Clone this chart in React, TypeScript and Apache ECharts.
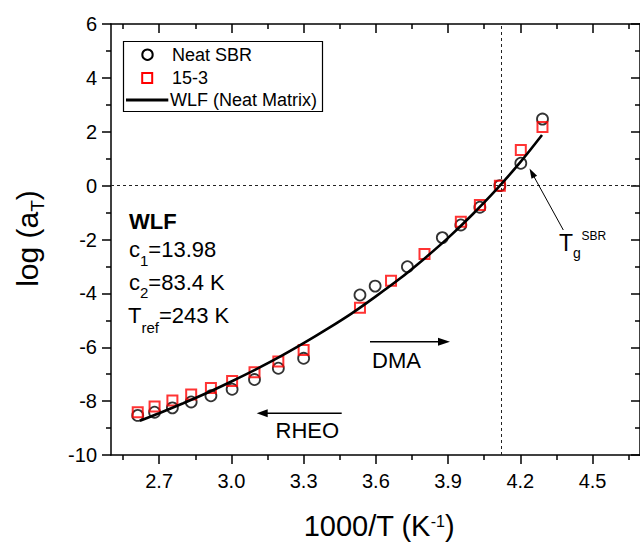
import React, { useEffect, useRef } from "react";
import * as echarts from "echarts";

const FONT = "'Liberation Sans', Arial, Helvetica, sans-serif";

// ---- axes ----
const X_MIN = 2.5;
const X_MAX = 4.697;
const Y_MIN = -10;
const Y_MAX = 6;
const Y_INTERVAL = 2;
const xMajorTicks = [2.7, 3.0, 3.3, 3.6, 3.9, 4.2, 4.5];
const xMinorTicks = [2.55, 2.85, 3.15, 3.45, 3.75, 4.05, 4.35, 4.65];

// ---- data: 1000/T (K^-1) vs log(aT) ----
const rheoX = [2.611, 2.681, 2.755, 2.833, 2.915, 3.003, 3.096, 3.195, 3.3];
const neatRheoY = [-8.53, -8.41, -8.25, -8.03, -7.8, -7.56, -7.2, -6.78, -6.41];
const b153RheoY = [-8.41, -8.2, -7.98, -7.75, -7.51, -7.25, -6.93, -6.53, -6.1];

const neatDmaX = [3.534, 3.597, 3.731, 3.876, 3.953, 4.032, 4.115, 4.202, 4.292];
const neatDmaY = [-4.06, -3.73, -3.01, -1.93, -1.46, -0.8, 0.0, 0.83, 2.47];
const b153DmaX = [3.534, 3.663, 3.802, 3.953, 4.032, 4.115, 4.202, 4.292];
const b153DmaY = [-4.53, -3.53, -2.54, -1.34, -0.72, 0.0, 1.32, 2.18];

const wlfX = [2.62, 2.7, 2.8, 2.9, 3.0, 3.1, 3.2, 3.3, 3.4, 3.5, 3.6, 3.7, 3.8, 3.9, 4.0, 4.1, 4.2, 4.29];
const wlfY = [-8.73, -8.45, -8.08, -7.69, -7.27, -6.83, -6.36, -5.85, -5.31, -4.74, -4.11, -3.45, -2.72, -1.94, -1.08, -0.15, 0.87, 1.88];

const TREF_X = 4.115;
const ZERO_Y = 0;

const seriesNames = ["Neat SBR", "15-3", "WLF (Neat Matrix)"];

function arrow(x1: number, y1: number, x2: number, y2: number, len: number, half: number, lw: number) {
  const dx = x2 - x1;
  const dy = y2 - y1;
  const d = Math.hypot(dx, dy);
  const ux = dx / d;
  const uy = dy / d;
  const bx = x2 - ux * len;
  const by = y2 - uy * len;
  return [
    {
      type: "line",
      z: 100,
      shape: { x1, y1, x2: bx + ux, y2: by + uy },
      style: { stroke: "#000", lineWidth: lw },
    },
    {
      type: "polygon",
      z: 100,
      shape: {
        points: [
          [x2, y2],
          [bx - uy * half, by + ux * half],
          [bx + uy * half, by - ux * half],
        ],
      },
      style: { fill: "#000" },
    },
  ];
}

const subRich = (main: number, sub: number, lh: number) => ({
  m: { fontSize: main, fontFamily: FONT, fill: "#000", lineHeight: lh },
  s: { fontSize: sub, fontFamily: FONT, fill: "#000", lineHeight: sub, verticalAlign: "bottom" },
  p: { fontSize: sub, fontFamily: FONT, fill: "#000", lineHeight: sub, verticalAlign: "top" },
});

export default function App() {
  const ref = useRef<HTMLDivElement>(null);

  useEffect(() => {
    if (!ref.current) return;
    const chart = echarts.init(ref.current, null, { renderer: "svg" });

    const axisLineStyle = { color: "#000", width: 1.5 };
    const baseX = {
      type: "value",
      min: X_MIN,
      max: X_MAX,
      splitLine: { show: false },
      axisLine: { show: false, onZero: false, lineStyle: axisLineStyle },
      axisLabel: { show: false },
    };

    const neatData = [
      ...rheoX.map((x, i) => [x, neatRheoY[i]]),
      ...neatDmaX.map((x, i) => [x, neatDmaY[i]]),
    ];
    const b153Data = [
      ...rheoX.map((x, i) => [x, b153RheoY[i]]),
      ...b153DmaX.map((x, i) => [x, b153DmaY[i]]),
    ];
    const wlfData = wlfX.map((x, i) => [x, wlfY[i]]);

    const option: any = {
      animation: false,
      backgroundColor: "#fff",
      grid: { left: 111, top: 24, width: 536, height: 431, containLabel: false },
      xAxis: [
        {
          ...baseX,
          position: "bottom",
          axisLine: { show: true, onZero: false, lineStyle: axisLineStyle },
          axisTick: { show: true, inside: false, length: 9, customValues: xMajorTicks, lineStyle: axisLineStyle },
          axisLabel: {
            show: true,
            customValues: xMajorTicks,
            formatter: (v: number) => v.toFixed(1),
            fontSize: 20,
            fontFamily: FONT,
            color: "#000",
            margin: 16,
          },
        },
        {
          ...baseX,
          position: "bottom",
          axisTick: { show: true, inside: false, length: 5, customValues: xMinorTicks, lineStyle: axisLineStyle },
        },
        {
          ...baseX,
          position: "top",
          axisLine: { show: true, onZero: false, lineStyle: axisLineStyle },
          axisTick: { show: true, inside: true, length: 9, customValues: xMajorTicks, lineStyle: axisLineStyle },
        },
        {
          ...baseX,
          position: "top",
          axisTick: { show: true, inside: true, length: 5, customValues: xMinorTicks, lineStyle: axisLineStyle },
        },
      ],
      yAxis: [
        {
          type: "value",
          position: "left",
          min: Y_MIN,
          max: Y_MAX,
          interval: Y_INTERVAL,
          splitLine: { show: false },
          axisLine: { show: true, onZero: false, lineStyle: axisLineStyle },
          axisTick: { show: true, inside: false, length: 9, lineStyle: axisLineStyle },
          minorTick: { show: true, splitNumber: 2, length: 5, lineStyle: axisLineStyle },
          minorSplitLine: { show: false },
          axisLabel: { fontSize: 20, fontFamily: FONT, color: "#000", margin: 14 },
        },
        {
          type: "value",
          position: "right",
          min: Y_MIN,
          max: Y_MAX,
          interval: Y_INTERVAL,
          splitLine: { show: false },
          axisLine: { show: true, onZero: false, lineStyle: axisLineStyle },
          axisTick: { show: true, inside: true, length: 9, lineStyle: axisLineStyle },
          minorTick: { show: true, splitNumber: 2, length: 5, lineStyle: axisLineStyle },
          minorSplitLine: { show: false },
          axisLabel: { show: false },
        },
      ],
      series: [
        {
          name: seriesNames[0],
          type: "scatter",
          data: neatData,
          symbol: "circle",
          symbolSize: 11,
          itemStyle: { color: "rgba(0,0,0,0)", borderColor: "#000", borderWidth: 1.8 },
          z: 3,
        },
        {
          name: seriesNames[1],
          type: "scatter",
          data: b153Data,
          symbol: "rect",
          symbolSize: 10,
          itemStyle: { color: "rgba(0,0,0,0)", borderColor: "#ff0000", borderWidth: 2 },
          z: 4,
        },
        {
          name: seriesNames[2],
          type: "line",
          data: wlfData,
          symbol: "none",
          showSymbol: false,
          smooth: 0.3,
          lineStyle: { color: "#000", width: 2.6 },
          z: 5,
          markLine: {
            silent: true,
            symbol: "none",
            label: { show: false },
            lineStyle: { type: [3, 3], color: "#222", width: 1 },
            data: [{ xAxis: TREF_X }, { yAxis: ZERO_Y }],
            z: 1,
          },
        },
      ],
      graphic: [
        // legend
        {
          type: "rect",
          z: 100,
          shape: { x: 123.5, y: 41.5, width: 199, height: 70 },
          style: { fill: "#fff", stroke: "#000", lineWidth: 1.2 },
        },
        {
          type: "circle",
          z: 101,
          shape: { cx: 147.5, cy: 54.7, r: 5.2 },
          style: { fill: "none", stroke: "#000", lineWidth: 2 },
        },
        {
          type: "rect",
          z: 101,
          shape: { x: 142.2, y: 73, width: 10, height: 10 },
          style: { fill: "none", stroke: "#ff0000", lineWidth: 2 },
        },
        {
          type: "line",
          z: 101,
          shape: { x1: 126, y1: 100, x2: 168.3, y2: 100 },
          style: { stroke: "#000", lineWidth: 2.8 },
        },
        {
          type: "text",
          z: 101,
          style: { x: 172, y: 54.5, text: seriesNames[0], fontSize: 18, fontFamily: FONT, fill: "#000", verticalAlign: "middle" },
        },
        {
          type: "text",
          z: 101,
          style: { x: 172, y: 77.8, text: seriesNames[1], fontSize: 18, fontFamily: FONT, fill: "#000", verticalAlign: "middle" },
        },
        {
          type: "text",
          z: 101,
          style: { x: 170, y: 99.7, text: seriesNames[2], fontSize: 18, fontFamily: FONT, fill: "#000", verticalAlign: "middle" },
        },
        // WLF parameters
        {
          type: "text",
          z: 100,
          style: { x: 129, y: 221.7, text: "WLF", fontSize: 22, fontWeight: "bold", fontFamily: FONT, fill: "#000", verticalAlign: "middle" },
        },
        {
          type: "text",
          z: 100,
          style: { x: 129, y: 249.5, text: "{m|c}{s|1}{m|=13.98}", rich: subRich(22, 15, 36), verticalAlign: "middle" },
        },
        {
          type: "text",
          z: 100,
          style: { x: 129, y: 282, text: "{m|c}{s|2}{m|=83.4 K}", rich: subRich(22, 15, 36), verticalAlign: "middle" },
        },
        {
          type: "text",
          z: 100,
          style: { x: 128, y: 315.5, text: "{m|T}{s|ref}{m|=243 K}", rich: subRich(22, 15, 38), verticalAlign: "middle" },
        },
        // DMA / RHEO labels and arrows
        {
          type: "text",
          z: 100,
          style: { x: 372, y: 360.8, text: "DMA", fontSize: 22, fontFamily: FONT, fill: "#000", verticalAlign: "middle" },
        },
        ...arrow(370, 341.7, 450, 341.7, 12, 4, 1.6),
        {
          type: "text",
          z: 100,
          style: { x: 275.5, y: 430.8, text: "RHEO", fontSize: 22, fontFamily: FONT, fill: "#000", verticalAlign: "middle" },
        },
        ...arrow(341.7, 413.3, 256.7, 413.3, 11, 4, 1.6),
        // Tg SBR
        ...arrow(563.3, 230, 529.5, 168.5, 10, 3.2, 1),
        {
          type: "text",
          z: 100,
          style: { x: 559, y: 243.3, text: "T", fontSize: 23, fontFamily: FONT, fill: "#000", verticalAlign: "middle" },
        },
        {
          type: "text",
          z: 100,
          style: { x: 573, y: 253.2, text: "g", fontSize: 14, fontFamily: FONT, fill: "#000", verticalAlign: "middle" },
        },
        {
          type: "text",
          z: 100,
          style: { x: 581.5, y: 235.8, text: "SBR", fontSize: 12, fontFamily: FONT, fill: "#000", verticalAlign: "middle" },
        },
        // axis titles
        {
          type: "text",
          z: 100,
          style: {
            x: 379,
            y: 526,
            text: "{m|1000/T (K}{p|-1}{m|)}",
            rich: subRich(29, 16, 26),
            align: "center",
            verticalAlign: "middle",
          },
        },
        {
          type: "text",
          z: 100,
          x: 27.5,
          y: 238.5,
          rotation: Math.PI / 2,
          style: {
            x: 0,
            y: 0,
            text: "{m|log (a}{s|T}{m|)}",
            rich: subRich(30, 19, 38),
            align: "center",
            verticalAlign: "middle",
          },
        },
      ],
    };

    chart.setOption(option);
    return () => chart.dispose();
  }, []);

  return (
    <div
      ref={ref}
      style={{ position: "absolute", left: 0, top: 0, width: 640, height: 542, background: "#fff" }}
    />
  );
}
